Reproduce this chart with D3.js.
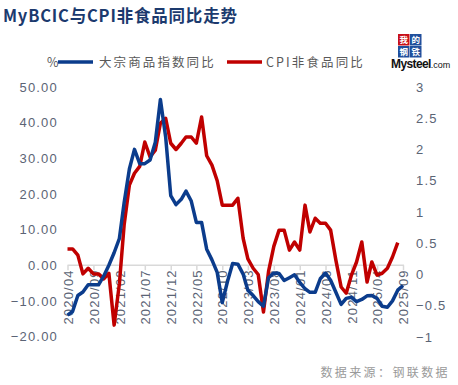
<!DOCTYPE html>
<html>
<head>
    <meta charset="utf-8">
    <title></title>
    <style>
        body {
            margin: 0;
            background: #fff;
        }
        .line {
            fill: none;
            stroke-width: 3.5px;
            stroke-linejoin: round;
        }
        .axis text {
            fill: #5b6475;
            font-family: "Liberation Sans", Arial, sans-serif;
            font-size: 13px;
            letter-spacing: 1.2px;
        }
    </style>
</head>
<body>
<script src="https://cdn.jsdelivr.net/npm/d3@7"></script>
<script>
    var width = 458;
    var height = 385;

    var startMonth = "2020/04";
    var tickLabels = ["2020/04", "2020/09", "2021/02", "2021/07", "2021/12", "2022/05", "2022/10",
        "2023/03", "2023/08", "2024/01", "2024/06", "2024/11", "2025/04", "2025/09"];

    // 大宗商品指数同比 (%), monthly from 2020/04
    var bcic = [-14, -13, -8.5, -7.5, -5.5, -5.5, -5.5, -3, 0, 3.5, 7.5, 17.5,
        27, 32.5, 28.5, 28.5, 29.5, 34.5, 46.5, 36, 19.5, 17, 18.5, 20.8,
        18, 12, 12, 4.5, 1.5, -2, -10.5, -4.5, 0.5, 0.3, -2.5, -7,
        -8.5, -10.2, -11.5, -3.5, -2.2, -2.3, -4.3, -3.5, -2.7, -4.8, -6.6, -7.6,
        -7.6, -3.8, -2.2, -4.2, -7.6, -11, -9.3, -9, -10.2, -9.6, -8.6, -8.5,
        -9.3, -11.5, -11.8, -10, -7, -5.7];

    // CPI非食品同比 (%), monthly from 2020/04, right axis
    var cpiNonFood = [0.41, 0.41, 0.31, 0.01, 0.1, 0.01, 0.01, -0.07, 0.02, -0.81, -0.15, 0.79,
        1.43, 1.62, 1.73, 2.12, 1.88, 1.99, 2.42, 2.5, 2.1, 2.0, 2.1, 2.2,
        2.2, 2.1, 2.52, 1.9, 1.75, 1.5, 1.11, 1.11, 1.11, 1.22, 0.58, 0.25,
        0.1, 0.0, -0.6, 0.05, 0.45, 0.71, 0.71, 0.39, 0.52, 0.39, 1.11, 0.68,
        0.9, 0.82, 0.82, 0.71, 0.23, -0.2, -0.3, -0.01, 0.2, 0.52, -0.12, 0.2,
        -0.01, 0.02, 0.1, 0.28, 0.51];

    var leftTicks = [50, 40, 30, 20, 10, 0, -10, -20];
    var rightTicks = [3, 2.5, 2, 1.5, 1, 0.5, 0, -0.5, -1];

    var parseMonth = d3.timeParse("%Y/%m");
    var fmtMonth = d3.timeFormat("%Y/%m");
    var start = parseMonth(startMonth);
    var months = d3.range(bcic.length).map(function(i) {return d3.timeMonth.offset(start, i);});

    var svg = d3.select("body").append("svg")
            .attr("width", width)
            .attr("height", height);

    var x = d3.scaleTime()
            .domain([months[0], months[months.length - 1]])
            .range([67.5, 403]);
    var yL = d3.scaleLinear().domain([-20, 50]).range([336.5, 87]);
    var yR = d3.scaleLinear().domain([-1, 3]).range([337, 87]);

    // title
    svg.append("text")
            .attr("x", 3)
            .attr("y", 22)
            .attr("fill", "#1c3a6e")
            .attr("font-family", "'Noto Sans CJK SC', sans-serif")
            .attr("font-weight", "bold")
            .attr("font-size", 16.5)
            .attr("letter-spacing", 0.8)
            .text("MyBCIC与CPI非食品同比走势");

    // legend
    var legend = svg.append("g")
            .attr("font-family", "'Noto Sans CJK SC', sans-serif")
            .attr("font-size", 12.5)
            .attr("fill", "#595959");
    legend.append("text").attr("x", 47).attr("y", 67).text("%");
    legend.append("line").attr("x1", 58).attr("x2", 93).attr("y1", 62).attr("y2", 62)
            .attr("stroke", "#0b3c8c").attr("stroke-width", 3.5);
    legend.append("text").attr("x", 99).attr("y", 67).attr("letter-spacing", 2.1).text("大宗商品指数同比");
    legend.append("line").attr("x1", 227).attr("x2", 262).attr("y1", 62).attr("y2", 62)
            .attr("stroke", "#c00000").attr("stroke-width", 3.5);
    legend.append("text").attr("x", 266).attr("y", 67).attr("letter-spacing", 2.1).text("CPI非食品同比");

    // logo
    var logo = svg.append("g").attr("font-family", "'Noto Sans CJK SC', sans-serif");
    var cells = [["我", 398, 34, "#c8101a"], ["的", 410, 34, "#1f4f9c"], ["钢", 398, 46, "#1f4f9c"], ["铁", 410, 46, "#1f4f9c"]];
    cells.forEach(function(c) {
        logo.append("rect").attr("x", c[1]).attr("y", c[2]).attr("width", 11.5).attr("height", 11.5).attr("fill", c[3]);
        logo.append("text").attr("x", c[1] + 5.75).attr("y", c[2] + 9.2).attr("text-anchor", "middle")
                .attr("font-size", 8.5).attr("font-weight", "bold").attr("fill", "#fff").text(c[0]);
    });
    var mt = logo.append("text").attr("x", 391).attr("y", 68)
            .attr("font-family", "'Liberation Sans', Arial, sans-serif").attr("fill", "#111");
    mt.append("tspan").attr("font-size", 12).attr("font-weight", "bold").attr("letter-spacing", -0.6).text("Mysteel");
    mt.append("tspan").attr("font-size", 9).text(".com");

    // left axis
    var gL = svg.append("g").attr("class", "axis")
            .attr("transform", "translate(58,0)")
            .call(d3.axisLeft(yL).tickValues(leftTicks).tickSize(0).tickPadding(0)
                    .tickFormat(function(d) {return (d < 0 ? "\u2212" : "") + d3.format(".2f")(Math.abs(d));}));
    gL.select(".domain").remove();

    // right axis
    var gR = svg.append("g").attr("class", "axis")
            .attr("transform", "translate(416,0)")
            .call(d3.axisRight(yR).tickValues(rightTicks).tickSize(0).tickPadding(0)
                    .tickFormat(function(d) {return d < 0 ? "\u2212" + (-d) : String(d);}));
    gR.select(".domain").remove();

    // x axis at left zero
    var gX = svg.append("g").attr("class", "axis")
            .attr("transform", "translate(0," + yL(0) + ")")
            .call(d3.axisBottom(x).tickValues(tickLabels.map(parseMonth)).tickSize(5).tickSizeOuter(0)
                    .tickFormat(fmtMonth));
    gX.select(".domain").attr("stroke", "#d9d9d9").attr("stroke-width", 1.5)
            .attr("d", "M" + x(months[0]) + ",0H" + (x(months[months.length - 1]) + 1));
    gX.selectAll(".tick line").attr("stroke", "#d9d9d9").attr("stroke-width", 1.5);
    gX.selectAll(".tick text")
            .attr("transform", "rotate(-90)")
            .attr("text-anchor", "end")
            .attr("x", -4)
            .attr("y", 0)
            .attr("dy", "0.36em");

    // lines
    var lineL = d3.line()
            .x(function(d, i) {return x(months[i]);})
            .y(function(d) {return yL(d);});
    var lineR = d3.line()
            .x(function(d, i) {return x(months[i]);})
            .y(function(d) {return yR(d);});

    svg.append("path").datum(cpiNonFood).attr("class", "line")
            .attr("stroke", "#c00000").attr("d", lineR);
    svg.append("path").datum(bcic).attr("class", "line")
            .attr("stroke", "#0b3c8c").attr("d", lineL);

    // source
    svg.append("text")
            .attr("x", 450)
            .attr("y", 377)
            .attr("text-anchor", "end")
            .attr("font-family", "'Noto Sans CJK SC', sans-serif")
            .attr("font-size", 12)
            .attr("letter-spacing", 2.4)
            .attr("fill", "#9a9a9a")
            .text("数据来源：钢联数据");
</script>
</body>
</html>
